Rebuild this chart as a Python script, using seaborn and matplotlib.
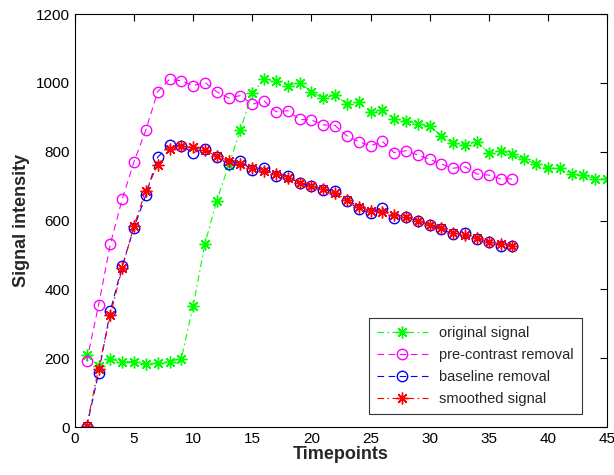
import numpy as np
import pandas as pd
import matplotlib
matplotlib.use('Agg')
import matplotlib.pyplot as plt
import seaborn as sns

original = [209, 178, 197, 190, 190, 183, 187, 190, 199, 352,
            533, 658, 760, 863, 970, 1010, 1006, 992, 1001, 974,
            955, 965, 938, 944, 916, 920, 895, 889, 880, 875,
            846, 824, 818, 829, 797, 803, 792, 778, 764, 752,
            752, 735, 732, 721, 721]
pre_contrast = [192, 354, 532, 662, 771, 863, 974, 1010, 1006, 992,
                1001, 974, 956, 963, 938, 947, 916, 919, 894, 892,
                878, 876, 846, 829, 817, 830, 797, 803, 790, 778,
                764, 752, 756, 735, 732, 721, 721]
baseline = [1, 156, 338, 468, 579, 674, 784, 818, 817, 797,
            809, 786, 764, 772, 747, 754, 730, 730, 708, 701,
            689, 686, 658, 633, 623, 637, 607, 609, 600, 587,
            574, 561, 563, 546, 538, 527, 527]
smoothed = [4, 170, 325, 462, 585, 687, 761, 807, 817, 813,
            804, 787, 774, 764, 754, 745, 735, 724, 710, 700,
            691, 679, 660, 640, 629, 625, 615, 609, 600, 587,
            577, 565, 558, 548, 538, 532, 527]
labels = ['original signal', 'pre-contrast removal', 'baseline removal', 'smoothed signal']

sns.set_style('white')
plt.rcParams['font.family'] = ['Liberation Sans', 'DejaVu Sans']

fig = plt.figure(figsize=(6.14, 4.75), dpi=100)
ax = fig.add_axes([0.122, 0.101, 0.8666, 0.8695])

star = (8, 2, 0)  # matlab-like asterisk
series = [
    (original, labels[0], '#00ff00', (0, (6, 3, 1.5, 3)), star),
    (pre_contrast, labels[1], '#ff00ff', (0, (6, 4)), 'o'),
    (baseline, labels[2], '#0000ff', (0, (6, 4)), 'o'),
    (smoothed, labels[3], '#ff0000', (0, (6, 3, 1.5, 3)), star),
]
for vals, lab, col, ls, mk in series:
    t = np.arange(1, len(vals) + 1)
    sns.lineplot(x=t, y=vals, ax=ax, color=col, linestyle=ls, marker=mk,
                 markersize=8.5 if mk is star else 7.5,
                 markerfacecolor='none', markeredgecolor=col,
                 markeredgewidth=1.0, linewidth=0.8, label=lab)

ax.set_xlim(0, 45)
ax.set_ylim(0, 1200)
ax.set_xticks(range(0, 46, 5))
ax.set_yticks(range(0, 1201, 200))
ax.tick_params(direction='in', top=True, right=True, length=5, width=0.8,
               labelsize=11, colors='black')
for s in ax.spines.values():
    s.set_color('black')
    s.set_linewidth(0.8)
ax.set_xlabel('Timepoints', fontsize=13, fontweight='bold', labelpad=0)
ax.set_ylabel('Signal intensity', fontsize=13, fontweight='bold', labelpad=4)

leg = ax.legend(loc='lower right', bbox_to_anchor=(0.953, 0.031), fontsize=10.5,
                frameon=True, fancybox=False, edgecolor='black', borderaxespad=0,
                handlelength=3.5, borderpad=0.55, labelspacing=0.55)
leg.get_frame().set_linewidth(0.8)

fig.savefig('out.png', dpi=100)
